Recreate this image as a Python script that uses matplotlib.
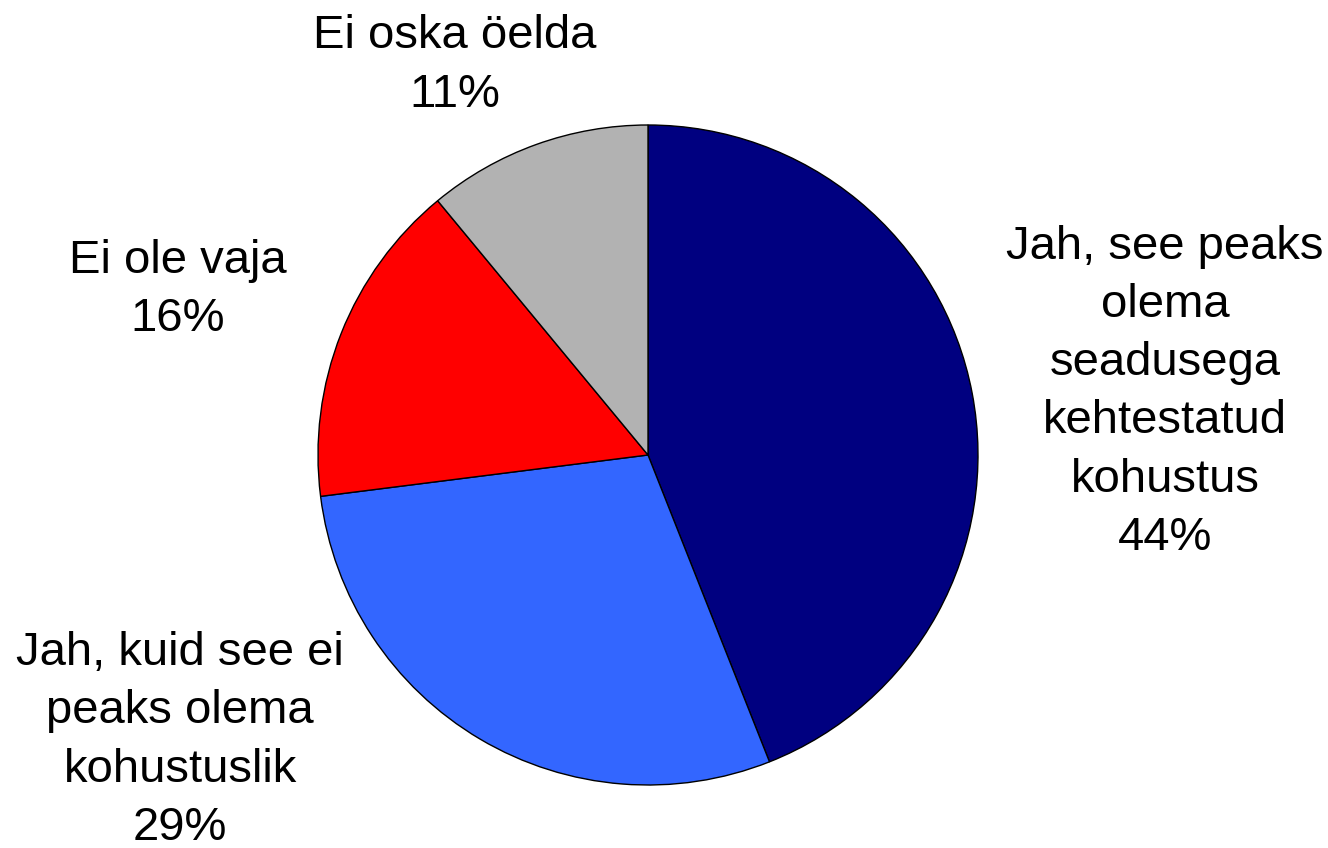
import matplotlib
matplotlib.use("Agg")
import matplotlib.pyplot as plt

labels = ["Jah, see peaks\nolema\nseadusega\nkehtestatud\nkohustus",
          "Jah, kuid see ei\npeaks olema\nkohustuslik",
          "Ei ole vaja",
          "Ei oska öelda"]
values = [44, 29, 16, 11]
colors = ["#000080", "#3366FF", "#FF0000", "#B2B2B2"]
# label centres in pie radius units
label_pos = [(1.567, 0.19), (-1.418, -0.865), (-1.424, 0.5), (-0.585, 1.18)]

plt.rcParams["font.family"] = ["Liberation Sans", "DejaVu Sans"]

fig = plt.figure(figsize=(13.28, 8.48), dpi=100)
ax = fig.add_axes([0, 0, 1, 1])
ax.pie(values, colors=colors, startangle=90, counterclock=False,
       wedgeprops=dict(edgecolor="black", linewidth=1))
for lab, v, (x, y) in zip(labels, values, label_pos):
    ax.text(x, y, f"{lab}\n{v}%", ha="center", va="center",
            fontsize=34, linespacing=1.42)

r = 330.0
ax.set_xlim(-648 / r, (1328 - 648) / r)
ax.set_ylim(-(848 - 455) / r, 455 / r)
ax.set_aspect("auto")
ax.axis("off")
fig.savefig("out.png", dpi=100)
